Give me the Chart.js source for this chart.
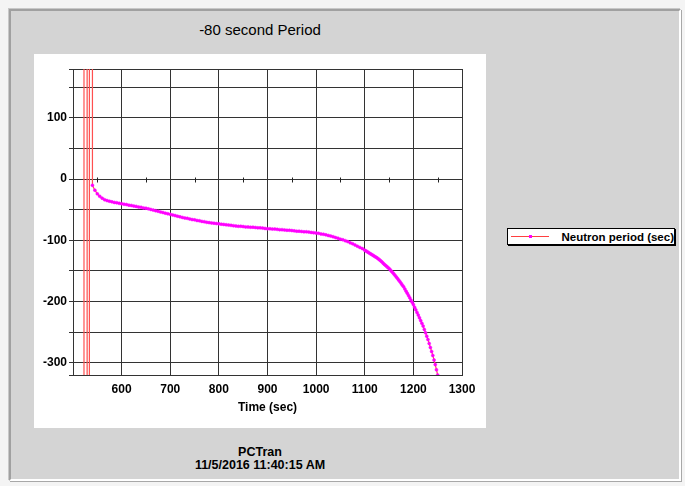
<!DOCTYPE html>
<html>
<head>
<meta charset="utf-8">
<script src="https://cdn.jsdelivr.net/npm/chart.js@4/dist/chart.umd.min.js"></script>
<style>
  html, body { margin: 0; padding: 0; }
  body {
    width: 685px; height: 486px; position: relative; overflow: hidden;
    background: #f4f4f4;
    font-family: "Liberation Sans", Arial, sans-serif; color: #000;
  }
  #frame {
    position: absolute; left: 9px; top: 9px; width: 668px; height: 468px;
    background: #d4d4d4;
    border-left: 2px solid #a0a0a0; border-top: 2px solid #a0a0a0;
    border-right: 2px solid #fff; border-bottom: 2px solid #fff;
    box-shadow: -1px -1px 0 #c8c8c8, 1px 1px 0 #a8a8a8;
  }
  #panel { position: absolute; left: 34px; top: 54px; width: 452px; height: 374px; background: #fff; }
  #title { position: absolute; left: 34px; width: 452px; top: 21px; line-height: 17px; text-align: center; font-size: 15px; }
  #footer { position: absolute; left: 34px; width: 452px; top: 446px; text-align: center; font-size: 12.5px; font-weight: bold; line-height: 12.5px; }
  #legend {
    position: absolute; left: 507px; top: 228px; width: 166px; height: 15px;
    background: #fff; border: 1px solid #000; box-shadow: 1px 1px 0 #000;
    display: flex; align-items: center; font-size: 11.5px; font-weight: bold; white-space: nowrap;
  }
  #legend .swatch { position: relative; width: 39px; height: 15px; margin-left: 3px; margin-right: 13px; }
  #legend .swatch .ln { position: absolute; left: 0; right: 0; top: 7px; height: 1px; background: #ff4040; }
  #legend .swatch .pt { position: absolute; left: 18px; top: 6px; width: 3px; height: 3px; background: #ff00ff; }
  canvas { position: absolute; left: 0; top: 0; }
</style>
</head>
<body>
<div id="frame"></div>
<div id="panel"></div>
<div id="title">-80 second Period</div>
<div id="legend"></div>
<div id="footer">PCTran<br>11/5/2016 11:40:15 AM</div>
<canvas id="chart" width="685" height="486"></canvas>
<script>
// off-scale jumps of the period right after the transient starts
const spikeTimes = [522.5, 522.6, 529, 529.1, 533.6, 533.7, 539.5];
const spikePeriods = [-2000, 2000, 2000, -2000, -2000, 2000, 2000];

// neutron period (sec)
const times = [
  540, 545, 550, 555, 560, 565, 570, 575, 580, 585, 590, 595,
  600, 605, 610, 615, 620, 625, 630, 635, 640, 645, 650, 655,
  660, 665, 670, 675, 680, 685, 690, 695, 700, 705, 710, 715,
  720, 725, 730, 735, 740, 745, 750, 755, 760, 765, 770, 775,
  780, 785, 790, 795, 800, 805, 810, 815, 820, 825, 830, 835,
  840, 845, 850, 855, 860, 865, 870, 875, 880, 885, 890, 895,
  900, 905, 910, 915, 920, 925, 930, 935, 940, 945, 950, 955,
  960, 965, 970, 975, 980, 985, 990, 995, 1000, 1005, 1010, 1015,
  1020, 1025, 1030, 1035, 1040, 1045, 1050, 1055, 1060, 1065, 1070, 1075,
  1080, 1085, 1090, 1095,
  1100, 1102.5, 1105, 1107.5, 1110, 1112.5, 1115, 1117.5, 1120, 1122.5, 1125, 1127.5,
  1130, 1132.5, 1135, 1137.5, 1140, 1142.5, 1145, 1147.5, 1150, 1152.5, 1155, 1157.5,
  1160, 1162.5, 1165, 1167.5, 1170, 1172.5, 1175, 1177.5, 1180, 1182.5, 1185, 1187.5,
  1190, 1192.5, 1195, 1197.5, 1200, 1202.5, 1205, 1207.5, 1210, 1212.5, 1215, 1217.5,
  1220, 1222.5, 1225, 1227.5, 1230, 1232.5, 1235, 1237.5, 1240, 1242.5, 1245, 1247.5,
  1250, 1252.5, 1255
];
const periods = [
  -10, -18, -24, -28, -31, -33.5, -35, -36, -37, -38, -38.5, -39.5,
  -40, -41, -41.5, -42.5, -43, -44, -44.5, -45.5, -46, -47, -47.5, -48.5,
  -49.5, -50.5, -51.5, -52.5, -53.5, -54.5, -55.5, -56.5, -57.5, -58.5, -59.5, -60.5,
  -61.5, -62.5, -63.5, -64, -65, -66, -66.5, -67.5, -68, -69, -69.5, -70.5,
  -71, -71.5, -72, -72.5, -73, -73.5, -74, -74.5, -75, -75.5, -76, -76.5,
  -77, -77, -77.5, -78, -78, -78.5, -78.5, -79, -79.5, -79.5, -80, -80.5,
  -81, -81, -81.5, -81.5, -82, -82.5, -82.5, -83, -83.5, -83.5, -84, -84.5,
  -85, -85, -85.5, -86, -86, -86.5, -87, -87.5, -88, -88.5, -89.5, -90,
  -91, -92, -93, -94, -95.5, -96.5, -98, -99, -100.5, -102, -104, -105.5,
  -107.5, -109.5, -111.5, -113.5,
  -116, -117.2, -118.5, -119.7, -121, -122.2, -123.5, -124.7, -126, -127.2, -128.5, -130,
  -131.5, -133.2, -135, -137, -139, -140.7, -142.5, -144.2, -146, -148.2, -150.5, -152.7,
  -155, -157.5, -160, -162.5, -165, -167.7, -170.5, -173.2, -176, -179.5, -183, -186.5,
  -190, -193.7, -197.5, -201.2, -205, -209.2, -213.5, -217.7, -222, -226.5, -231, -235.5,
  -240, -245.5, -251, -256.5, -262, -268.5, -275, -281.5, -288, -295.5, -303, -311.5,
  -320, -329, -338
];

const seriesLabel = 'Neutron period (sec)';
const xGridTicks = [500, 600, 700, 800, 900, 1000, 1100, 1200, 1300];
const xLabelTicks = [600, 700, 800, 900, 1000, 1100, 1200, 1300];
const yGridTicks = [-320, -300, -250, -200, -150, -100, -50, 0, 50, 100, 150, 180];
const yLabelTicks = [100, 0, -100, -200, -300];
const minorTicks = [550, 650, 750, 850, 950, 1050, 1150, 1250];

const points = spikeTimes.map((t, i) => ({ x: t, y: spikePeriods[i] }))
  .concat(times.map((t, i) => ({ x: t, y: periods[i] })));

// little tick marks sitting on the zero line
const zeroTicks = {
  id: 'zeroTicks',
  beforeDatasetsDraw(chart) {
    const { ctx, scales: { x, y } } = chart;
    const y0 = Math.round(y.getPixelForValue(0)) + 0.5;
    ctx.save();
    ctx.strokeStyle = '#222';
    ctx.lineWidth = 1;
    minorTicks.forEach((t) => {
      const px = Math.round(x.getPixelForValue(t)) + 0.5;
      ctx.beginPath();
      ctx.moveTo(px, y0 - 2);
      ctx.lineTo(px, y0 + 3);
      ctx.stroke();
    });
    ctx.restore();
  }
};

const chart = new Chart(document.getElementById('chart'), {
  type: 'line',
  data: {
    datasets: [{
      label: seriesLabel,
      data: points,
      borderColor: '#ff5050',
      borderWidth: 1.2,
      pointRadius: 1.5,
      pointBackgroundColor: '#ff00ff',
      pointBorderColor: '#ff00ff',
      pointBorderWidth: 0.5,
      tension: 0
    }]
  },
  options: {
    responsive: false,
    animation: false,
    events: [],
    layout: { padding: { left: 0, top: 69, right: 223, bottom: 66 } },
    plugins: { legend: { display: false }, tooltip: { enabled: false } },
    scales: {
      x: {
        type: 'linear',
        min: 500,
        max: 1300,
        afterBuildTicks: (scale) => { scale.ticks = xGridTicks.map((v) => ({ value: v })); },
        afterFit: (scale) => { scale.height = 45; },
        border: { color: '#333', width: 1 },
        grid: { color: '#333', lineWidth: 1, drawTicks: false },
        ticks: {
          padding: 7,
          color: '#000',
          font: { family: 'Liberation Sans', size: 12, weight: 'bold' },
          callback: (v) => (xLabelTicks.includes(v) ? String(v) : '')
        },
        title: {
          display: true,
          text: 'Time (sec)',
          color: '#000',
          padding: { top: 0, bottom: 5 },
          font: { family: 'Liberation Sans', size: 12, weight: 'bold' }
        }
      },
      y: {
        min: -320,
        max: 180,
        afterBuildTicks: (scale) => { scale.ticks = yGridTicks.map((v) => ({ value: v })); },
        afterFit: (scale) => { scale.width = 73; },
        border: { color: '#333', width: 1 },
        grid: { color: '#333', lineWidth: 1, tickLength: 4 },
        ticks: {
          padding: 2,
          color: '#000',
          font: { family: 'Liberation Sans', size: 12, weight: 'bold' },
          callback: (v) => (yLabelTicks.includes(v) ? String(v) : '')
        }
      }
    }
  },
  plugins: [zeroTicks]
});

// legend box outside the white panel
const legendBox = document.getElementById('legend');
chart.data.datasets.forEach((ds) => {
  const sw = document.createElement('span');
  sw.className = 'swatch';
  sw.innerHTML = '<span class="ln"></span><span class="pt"></span>';
  const txt = document.createElement('span');
  txt.textContent = ds.label;
  legendBox.appendChild(sw);
  legendBox.appendChild(txt);
});
</script>
</body>
</html>
